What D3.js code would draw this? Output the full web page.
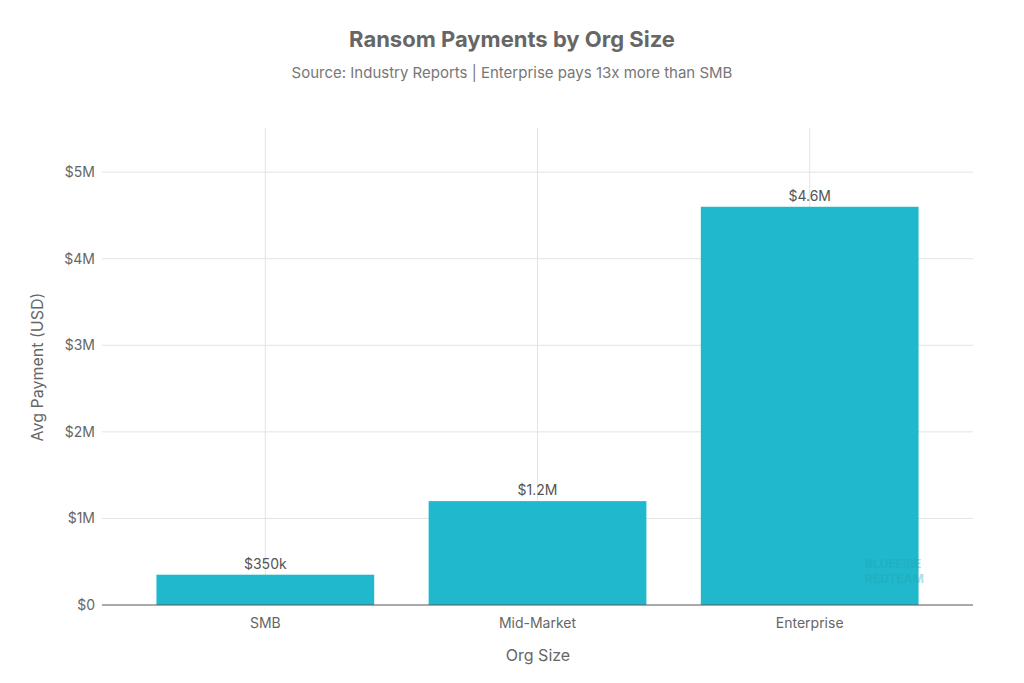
<!DOCTYPE html>
<html><head><meta charset="utf-8">
<script src="https://cdn.jsdelivr.net/npm/d3@7"></script>
<style>body{margin:0;background:#fff;font-family:Inter,"Open Sans",sans-serif;}</style>
</head><body><svg id="c" width="1024" height="683"></svg>
<script>
const categories = ["SMB","Mid-Market","Enterprise"];
const values = [350000,1200000,4600000];
const labels = ["$350k","$1.2M","$4.6M"];
const yTicks = [0,1e6,2e6,3e6,4e6,5e6];
const yTickLabels = ["$0","$1M","$2M","$3M","$4M","$5M"];

const svg = d3.select("#c");
const m = {l:102, r:973, t:128, b:605};
const x = d3.scaleBand().domain(categories).range([m.l,m.r]).padding(0.2);
const y = d3.scaleLinear().domain([0,5.51e6]).range([m.b,m.t]);

svg.append("g").selectAll("line").data(yTicks.slice(1)).join("line")
  .attr("x1",m.l).attr("x2",m.r).attr("y1",d=>y(d)).attr("y2",d=>y(d))
  .attr("stroke","#e3e3e3");
svg.append("g").selectAll("line").data(categories).join("line")
  .attr("x1",d=>x(d)+x.bandwidth()/2).attr("x2",d=>x(d)+x.bandwidth()/2)
  .attr("y1",m.t).attr("y2",m.b).attr("stroke","#e3e3e3");

svg.append("g").selectAll("rect").data(values).join("rect")
  .attr("x",(d,i)=>x(categories[i])).attr("width",x.bandwidth())
  .attr("y",d=>y(d)).attr("height",d=>m.b-y(d)).attr("fill","#1fb8cd");

svg.append("g").selectAll("text").data(values).join("text")
  .attr("x",(d,i)=>x(categories[i])+x.bandwidth()/2).attr("y",d=>y(d)-6)
  .attr("text-anchor","middle").attr("font-size",14).attr("fill","#555")
  .text((d,i)=>labels[i]);

svg.append("line").attr("x1",m.l).attr("x2",m.r).attr("y1",m.b).attr("y2",m.b).attr("stroke","#555");

svg.append("g").selectAll("text").data(yTicks).join("text")
  .attr("x",95).attr("y",d=>y(d)+5).attr("text-anchor","end")
  .attr("font-size",14).attr("fill","#666").text((d,i)=>yTickLabels[i]);
svg.append("g").selectAll("text").data(categories).join("text")
  .attr("x",d=>x(d)+x.bandwidth()/2).attr("y",628).attr("text-anchor","middle")
  .attr("font-size",14).attr("fill","#666").text(d=>d);

svg.append("text").attr("x",512).attr("y",47).attr("text-anchor","middle")
  .attr("font-size",22).attr("font-weight","bold").attr("fill","#666").text("Ransom Payments by Org Size");
svg.append("text").attr("x",512).attr("y",78).attr("text-anchor","middle")
  .attr("font-size",15).attr("fill","#777").text("Source: Industry Reports | Enterprise pays 13x more than SMB");
svg.append("text").attr("x",538).attr("y",661).attr("text-anchor","middle")
  .attr("font-size",16).attr("fill","#666").text("Org Size");
svg.append("text").attr("transform","translate(43,367) rotate(-90)").attr("text-anchor","middle")
  .attr("font-size",16).attr("fill","#666").text("Avg Payment (USD)");
svg.append("text").attr("x",865).attr("y",568).attr("font-size",12).attr("font-weight","bold")
  .attr("fill","#2a9fb0").attr("opacity",0.35).text("BLUEFIRE");
svg.append("text").attr("x",865).attr("y",583).attr("font-size",12).attr("font-weight","bold")
  .attr("fill","#2a9fb0").attr("opacity",0.35).text("REDTEAM");
</script></body></html>
